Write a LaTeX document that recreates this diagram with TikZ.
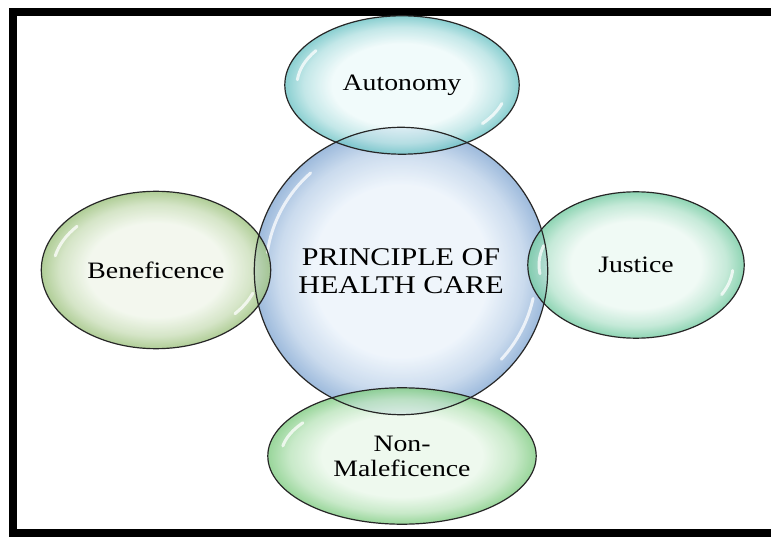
\documentclass[tikz,border=0pt]{standalone}
\usepackage{fontspec}
\setmainfont{Liberation Serif}
\newfontfamily\labfont[FakeStretch=1.18]{Liberation Serif}
\usetikzlibrary{shapes.geometric,calc}
\colorlet{bin}{white}
\colorlet{bout}{gray}
\definecolor{hubIn}{HTML}{EBF3FB}\definecolor{hubOut}{HTML}{86AAD4}
\definecolor{autIn}{HTML}{EEFAFA}\definecolor{autOut}{HTML}{6EC4C6}
\definecolor{benIn}{HTML}{F0F6EA}\definecolor{benOut}{HTML}{9DC27E}
\definecolor{jusIn}{HTML}{EDF9F3}\definecolor{jusOut}{HTML}{74CBA2}
\definecolor{malIn}{HTML}{EAF8EA}\definecolor{malOut}{HTML}{80CC82}
\pgfdeclareradialshading[bin,bout]{glossy}{\pgfpoint{0bp}{0bp}}{%
  color(0bp)=(bin); color(15bp)=(bin); color(21bp)=(bin!55!bout);
  color(25bp)=(bout); color(50bp)=(bout)}
\newcommand\gleam[5]{\draw[gloss] ([shift={(#4:#2 and #3)}]#1.center)
  arc[start angle=#4, end angle=#5, x radius=#2, y radius=#3];}
\begin{document}
\begin{tikzpicture}[x=1pt,y=-1pt,
  bubble/.style n args={4}{ellipse, minimum width=#1, minimum height=#2,
    inner sep=0pt, /utils/exec={\colorlet{bin}{#3}\colorlet{bout}{#4}},
    shading=glossy, fill opacity=0.8, text opacity=1, text=black,
    font=\labfont\fontsize{23.5}{25}\selectfont, align=center},
  hubfont/.style={font=\labfont\fontsize{25.5}{28}\selectfont},
  rim/.style={draw=black!85, line width=1.2pt},
  gloss/.style={white, line width=3pt, line cap=round, opacity=0.75},
  frame/.style={line width=8pt, black}]
\useasboundingbox (0,0) rectangle (771,537);
\fill[white] (0,0) rectangle (771,537);
% frame
\draw[frame] (771,12) -- (13,12) -- (13,533) -- (771,533);
% bubbles
\node[bubble={293pt}{287pt}{hubIn}{hubOut}, hubfont] (c) at (401,271) {PRINCIPLE OF\\HEALTH CARE};
\node[bubble={234pt}{138pt}{autIn}{autOut}] (a) at (402,85) {Autonomy};
\node[bubble={229pt}{157pt}{benIn}{benOut}] (b) at (156,270) {Beneficence};
\node[bubble={216pt}{146pt}{jusIn}{jusOut}] (j) at (636,265) {Justice};
\node[bubble={268pt}{136pt}{malIn}{malOut}] (m) at (402,456) {Non-\\Maleficence};
% gloss highlights
\gleam{c}{135}{132}{188}{228}
\gleam{c}{135}{132}{12}{42}
\gleam{a}{105}{60}{185}{215}
\gleam{a}{105}{60}{18}{40}
\gleam{b}{103}{68}{192}{220}
\gleam{b}{103}{68}{20}{40}
\gleam{j}{97}{63}{172}{198}
\gleam{j}{97}{63}{5}{28}
\gleam{m}{121}{58}{190}{215}
% outlines
\foreach \nd in {c,a,b,j,m}{
  \draw[rim] let \p1=(\nd.center), \p2=(\nd.east), \p3=(\nd.north) in
    (\p1) ellipse [x radius={\x2-(\x1)}, y radius={\y3-(\y1)}];
}
\end{tikzpicture}
\end{document}
